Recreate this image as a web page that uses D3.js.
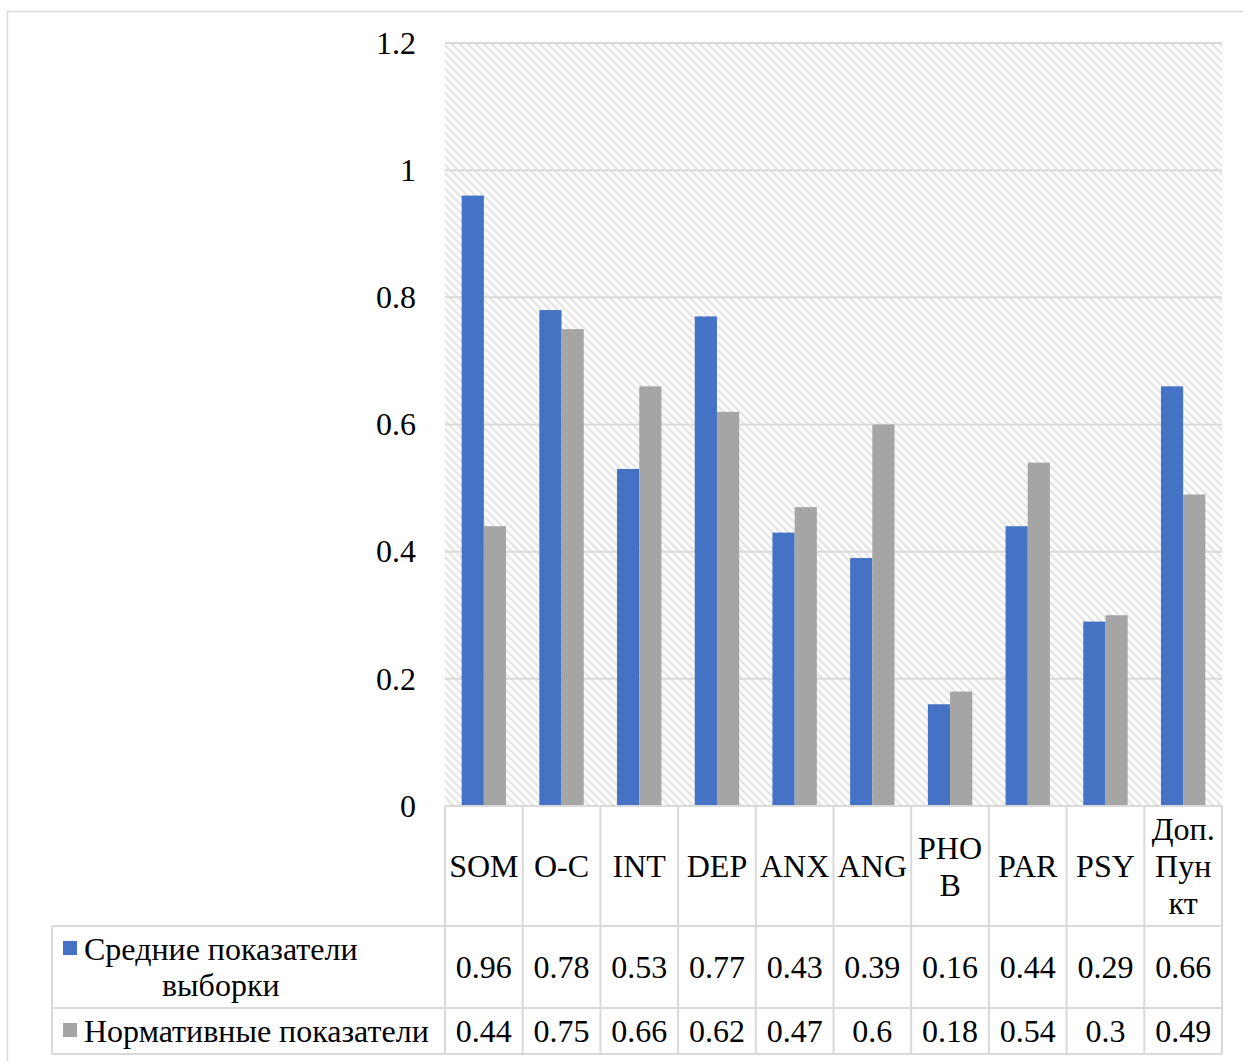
<!DOCTYPE html>
<html>
<head>
<meta charset="utf-8">
<script src="https://cdn.jsdelivr.net/npm/d3@7"></script>
<style>
  html, body { margin: 0; padding: 0; background: #fff; }
  svg { display: block; }
  text { font-family: "Liberation Serif", "Times New Roman", serif; fill: #000; }
</style>
</head>
<body>
<svg id="chart" width="1243" height="1061"></svg>
<script>
// Symptom scales (SCL-90) and their mean scores
const categories = ["SOM", "O-C", "INT", "DEP", "ANX", "ANG", "PHOB", "PAR", "PSY", "Доп. Пункт"];
// How each scale name breaks inside its narrow table cell
const categoryLines = [["SOM"], ["O-C"], ["INT"], ["DEP"], ["ANX"], ["ANG"], ["PHO", "B"], ["PAR"], ["PSY"], ["Доп.", "Пун", "кт"]];
const seriesNames = ["Средние показатели выборки", "Нормативные показатели"];
const sampleMeans = [0.96, 0.78, 0.53, 0.77, 0.43, 0.39, 0.16, 0.44, 0.29, 0.66];
const normValues = [0.44, 0.75, 0.66, 0.62, 0.47, 0.6, 0.18, 0.54, 0.3, 0.49];
const yTicks = [0, 0.2, 0.4, 0.6, 0.8, 1, 1.2];

const seriesValues = [sampleMeans, normValues];
const colors = ["#4472C4", "#A5A5A5"];
const lineColor = "#d9d9d9";
const fontSize = 32;

const svg = d3.select("#chart");

// Outer chart frame
svg.append("rect")
  .attr("x", 7.5).attr("y", 11.5).attr("width", 1260).attr("height", 1070)
  .attr("fill", "#fff").attr("stroke", lineColor).attr("stroke-width", 1.5);

// Plot area geometry
const plot = { left: 445, right: 1222, top: 43, bottom: 806 };
const x = d3.scaleBand().domain(categories).range([plot.left, plot.right]).paddingInner(0).paddingOuter(0);
const y = d3.scaleLinear().domain([0, 1.2]).range([plot.bottom, plot.top]);
const gapRatio = 1.5; // gap between groups relative to a single bar
const barW = x.bandwidth() / (2 + gapRatio);
const xs = d3.scaleBand().domain([0, 1]).range([0, 2 * barW]).padding(0);

// Hatched background (wide downward diagonal)
const defs = svg.append("defs");
const pat = defs.append("pattern")
  .attr("id", "hatch").attr("patternUnits", "userSpaceOnUse")
  .attr("width", 8).attr("height", 8);
pat.append("rect").attr("width", 8).attr("height", 8).attr("fill", "#fff");
pat.append("path")
  .attr("d", "M-2,-2 L10,10 M-2,6 L2,10 M6,-2 L10,2")
  .attr("stroke", "#e6e6e6").attr("stroke-width", 2.6);

svg.append("rect")
  .attr("x", plot.left).attr("y", plot.top)
  .attr("width", plot.right - plot.left).attr("height", plot.bottom - plot.top)
  .attr("fill", "url(#hatch)");

// Horizontal gridlines
svg.append("g").selectAll("line")
  .data(yTicks.filter(t => t > 0))
  .join("line")
  .attr("x1", plot.left).attr("x2", plot.right)
  .attr("y1", d => y(d)).attr("y2", d => y(d))
  .attr("stroke", lineColor).attr("stroke-width", 2);

// Y axis labels
const yAxis = d3.axisLeft(y).tickValues(yTicks).tickSize(0).tickPadding(0)
  .tickFormat(d => String(d));
const yg = svg.append("g").attr("transform", `translate(${plot.left - 29},0)`).call(yAxis);
yg.select(".domain").remove();
yg.selectAll("text")
  .attr("font-size", fontSize)
  .attr("font-family", "Liberation Serif, Times New Roman, serif")
  .attr("fill", "#000");

// Bars
const groups = svg.append("g").selectAll("g")
  .data(categories)
  .join("g")
  .attr("transform", d => `translate(${x(d) + (x.bandwidth() - 2 * barW) / 2},0)`);
groups.selectAll("rect")
  .data((d, i) => seriesValues.map((vals, s) => ({ s, v: vals[i] })))
  .join("rect")
  .attr("x", d => xs(d.s))
  .attr("width", xs.bandwidth())
  .attr("y", d => y(d.v))
  .attr("height", d => y(0) - y(d.v))
  .attr("fill", d => colors[d.s]);

// Data table
const table = { headerBottom: 926, row1Bottom: 1008, row2Bottom: 1054, legendLeft: 52 };
const rowBounds = [[table.headerBottom, table.row1Bottom], [table.row1Bottom, table.row2Bottom]];
const tg = svg.append("g").attr("stroke", lineColor).attr("stroke-width", 2).attr("fill", "none");

// horizontal rules
tg.append("line").attr("x1", plot.left).attr("x2", plot.right).attr("y1", plot.bottom).attr("y2", plot.bottom);
[table.headerBottom, table.row1Bottom, table.row2Bottom].forEach(yy => {
  tg.append("line").attr("x1", table.legendLeft).attr("x2", plot.right).attr("y1", yy).attr("y2", yy);
});
// vertical rules for category columns
const colEdges = categories.map(c => x(c)).concat([plot.right]);
tg.selectAll("line.col").data(colEdges).join("line").attr("class", "col")
  .attr("x1", d => d).attr("x2", d => d)
  .attr("y1", plot.bottom).attr("y2", table.row2Bottom);
// legend column left edge
tg.append("line").attr("x1", table.legendLeft).attr("x2", table.legendLeft)
  .attr("y1", table.headerBottom).attr("y2", table.row2Bottom);

// Word wrap for the legend cells
const measurer = svg.append("text").attr("font-size", fontSize).attr("visibility", "hidden");
function textW(s) { measurer.text(s); return measurer.node().getComputedTextLength(); }
function wrap(str, maxW) {
  const lines = [];
  let cur = "";
  str.split(" ").forEach(word => {
    const tryLine = cur ? cur + " " + word : word;
    if (textW(tryLine) <= maxW) { cur = tryLine; return; }
    if (cur) lines.push(cur);
    cur = word;
  });
  if (cur) lines.push(cur);
  return lines;
}

const lineH = 37;
// Category header cells
categories.forEach((c, ci) => {
  const lines = categoryLines[ci];
  const cx = x(c) + x.bandwidth() / 2;
  const cy = (plot.bottom + table.headerBottom) / 2;
  const t = svg.append("text").attr("font-size", fontSize).attr("text-anchor", "middle");
  lines.forEach((ln, i) => {
    t.append("tspan").attr("x", cx)
      .attr("y", cy + (i - (lines.length - 1) / 2) * lineH)
      .attr("dy", "0.35em").text(ln);
  });
});

// Value cells
seriesValues.forEach((vals, s) => {
  const [y0, y1] = rowBounds[s];
  svg.append("g").selectAll("text").data(vals).join("text")
    .attr("font-size", fontSize).attr("text-anchor", "middle")
    .attr("x", (d, i) => x(categories[i]) + x.bandwidth() / 2)
    .attr("y", (y0 + y1) / 2).attr("dy", "0.35em")
    .text(d => String(d));
});

// Legend cells: colour key + wrapped series name
seriesNames.forEach((name, s) => {
  const [y0, y1] = rowBounds[s];
  const lines = wrap(name, 356);
  const cy = (y0 + y1) / 2;
  const firstY = cy - (lines.length - 1) / 2 * 36;
  const widths = lines.map(textW);
  const blockW = d3.max(widths);
  const textLeft = 84;
  svg.append("rect").attr("x", 63).attr("y", firstY - 8).attr("width", 14).attr("height", 14)
    .attr("fill", colors[s]);
  const t = svg.append("text").attr("font-size", fontSize).attr("text-anchor", "middle");
  lines.forEach((ln, i) => {
    t.append("tspan").attr("x", textLeft + blockW / 2)
      .attr("y", firstY + i * 36).attr("dy", "0.35em").text(ln);
  });
});
measurer.remove();
</script>
</body>
</html>
